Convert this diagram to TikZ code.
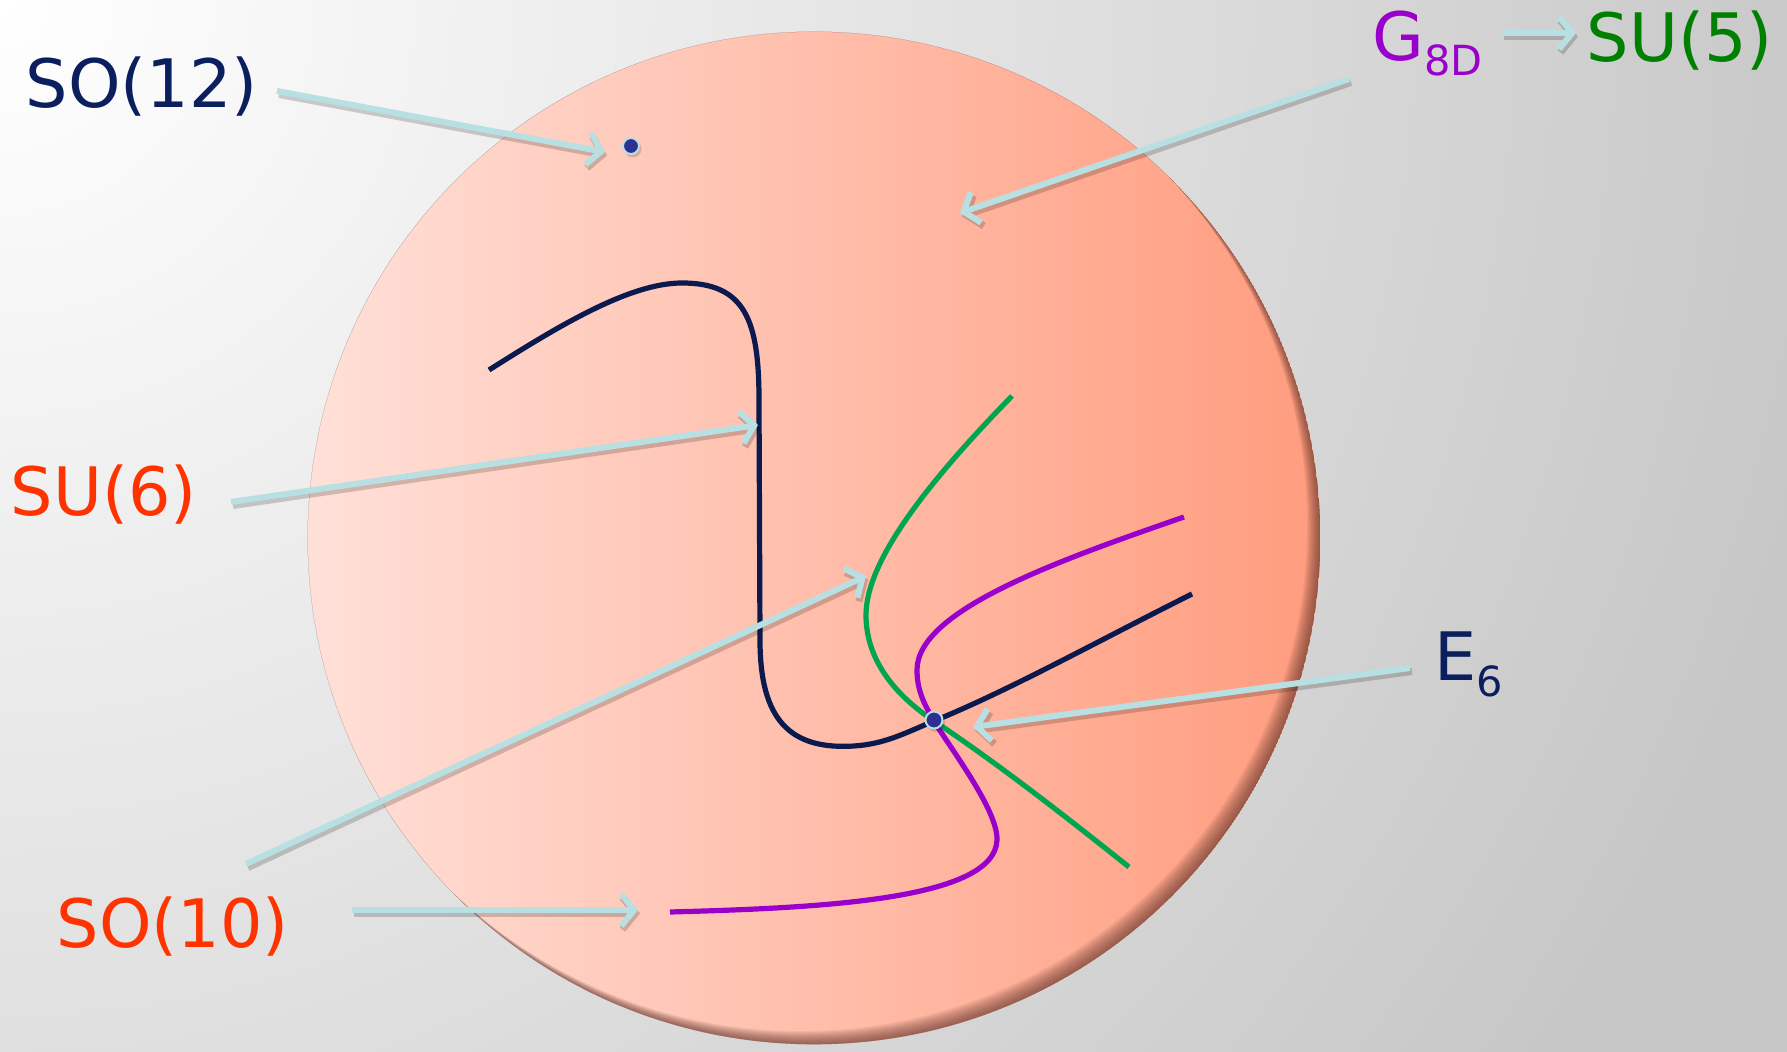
\documentclass[tikz,border=0pt]{standalone}
\usepackage{fontspec}
\setmainfont{DejaVu Sans}
\usetikzlibrary{arrows.meta}
\definecolor{bgGray}{HTML}{C6C6C6}
\definecolor{pinkL}{HTML}{FFE0D8}
\definecolor{pinkR}{HTML}{FF9C7E}
\definecolor{navyT}{HTML}{0B1F5E}
\definecolor{navyC}{HTML}{0A1A4F}
\definecolor{purp}{HTML}{9900CC}
\definecolor{greenT}{HTML}{008000}
\definecolor{greenC}{HTML}{00A550}
\definecolor{redT}{HTML}{FF3300}
\definecolor{arrowC}{HTML}{B8E0E3}
\definecolor{dotC}{HTML}{2E3192}
\definecolor{shadowC}{HTML}{5A2E25}
\begin{document}
\begin{tikzpicture}[x=0.01cm,y=-0.01cm,
  lbl/.style={inner sep=0pt, anchor=base west, font=\fontsize{19pt}{21pt}\selectfont},
  curve/.style={line width=0.052cm},
  arr/.style={draw=arrowC, line width=0.06cm, -{Straight Barb[length=0.13cm,width=0.32cm]}},
  arrsh/.style={draw=black, opacity=0.18, line width=0.07cm, -{Straight Barb[length=0.13cm,width=0.32cm]}, transform canvas={xshift=0.02cm,yshift=-0.035cm}},
  dot/.style={circle, fill=dotC, draw=arrowC, line width=0.02cm, inner sep=0pt},
]
\useasboundingbox (0,0) rectangle (1787,1052);
% background
\begin{scope}
\clip (0,0) rectangle (1787,1052);
\fill[bgGray] (0,0) rectangle (1787,1052);
\shade[inner color=white, outer color=bgGray] (0,0) circle (19cm);
\end{scope}
% disc
\shade[left color=pinkL, right color=pinkR] (814,538) circle (5.06cm);
\begin{scope}
\clip (814,538) circle (5.06cm);
\foreach \d in {1,...,12}{
  \fill[shadowC, opacity=0.07, even odd rule] (814,538) circle (5.06cm) ({814-\d*1.1},{538-\d*1.1}) circle (5.06cm);
}
\end{scope}
% curves
\draw[curve, navyC] (489,370) .. controls (560,325) and (630,283) .. (682,283)
  .. controls (745,283) and (759,320) .. (759,400)
  -- (760,640)
  .. controls (760,720) and (790,750) .. (854,746)
  .. controls (885,744) and (905,733) .. (934,721)
  .. controls (1010,690) and (1100,640) .. (1192,594);
\draw[curve, greenC] (1012,396) .. controls (930,480) and (866,560) .. (866,615)
  .. controls (866,660) and (895,695) .. (934,721)
  .. controls (1000,765) and (1070,820) .. (1129,867);
\draw[curve, purp] (1184,517) .. controls (1060,560) and (917,610) .. (917,670)
  .. controls (917,690) and (924,704) .. (934,721)
  .. controls (950,748) and (998,810) .. (997,840)
  .. controls (995,900) and (820,908) .. (670,912);
% dots (with soft shadow)
\fill[black, opacity=0.15] (633,149) circle (0.085cm);
\fill[black, opacity=0.15] (936,723) circle (0.09cm);
\node[dot, minimum size=0.16cm] (so12dot) at (631,146) {};
\node[dot, minimum size=0.17cm] (e6dot) at (934,720) {};
% labels
\node[lbl, text=navyT] (so12) at (25,108) {SO(12)};
\node[lbl, text=purp] (g8d) at (1372,61) {G\raisebox{-0.14cm}{\fontsize{11.8pt}{12pt}\selectfont 8D}};
\node[lbl, text=greenT] (su5) at (1586,62) {SU(5)};
\node[lbl, text=redT] (su6) at (10,516) {SU(6)};
\node[lbl, text=redT] (so10) at (56,947) {SO(10)};
\node[lbl, text=navyT] (e6) at (1434,681) {E\raisebox{-0.15cm}{\fontsize{11.8pt}{12pt}\selectfont 6}};
% arrow end points
\coordinate (a1s) at (277,91);   \coordinate (a1e) at (605,152);
\coordinate (a2s) at (1349,79);  \coordinate (a2e) at (960,213);
\coordinate (a3s) at (1502,33);  \coordinate (a3e) at (1576,33);
\coordinate (a4s) at (231,502);  \coordinate (a4e) at (758,425);
\coordinate (a5s) at (246,864);  \coordinate (a5e) at (866,576);
\coordinate (a6s) at (352,910);  \coordinate (a6e) at (638,910);
\coordinate (a7s) at (1410,668); \coordinate (a7e) at (973,727);
\foreach \i in {1,...,7}{ \draw[arrsh] (a\i s) -- (a\i e); }
\foreach \i in {1,...,7}{ \draw[arr] (a\i s) -- (a\i e); }
\end{tikzpicture}
\end{document}
